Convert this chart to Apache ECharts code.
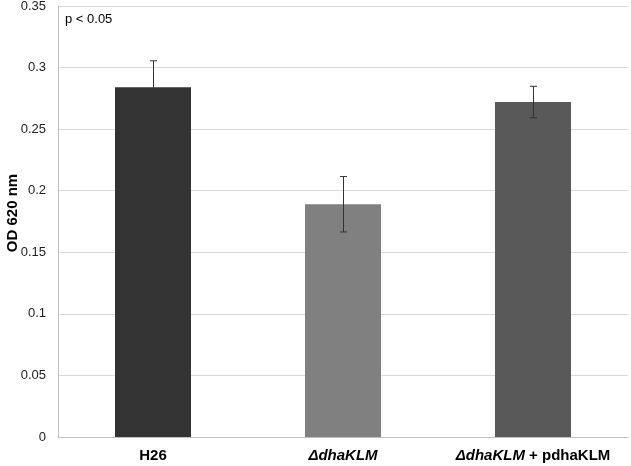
<!DOCTYPE html>
<html><head><meta charset="utf-8">
<script src="https://cdn.jsdelivr.net/npm/echarts@6/dist/echarts.min.js"></script>
<style>html,body{margin:0;padding:0;background:#fff}#c{width:631px;height:466px}</style>
</head><body><div id="c"></div>
<script>
const categories = ['H26', 'ΔdhaKLM', 'ΔdhaKLM + pdhaKLM'];
const values = [0.284, 0.189, 0.272];
const errors = [0.0215, 0.0225, 0.0128];
const barColors = ['#333333', '#808080', '#595959'];
const yTicks = { min: 0, max: 0.35, interval: 0.05 };
const yAxisTitle = 'OD 620 nm';
const note = 'p < 0.05';

const chart = echarts.init(document.getElementById('c'));
const font = 'Liberation Sans, Arial, sans-serif';
chart.setOption({
  animation: false,
  grid: { left: 58, right: 3, top: 6, bottom: 29, containLabel: false, outerBoundsMode: 'none' },
  graphic: [
    { type: 'text', left: 65, top: 13, style: { text: note, font: '13px ' + font, fill: '#000' } },
    { type: 'text', x: 13, y: 213, rotation: Math.PI / 2,
      style: { text: yAxisTitle, font: 'bold 15px ' + font, fill: '#000', align: 'center', verticalAlign: 'middle' } }
  ],
  xAxis: {
    type: 'category', data: categories,
    axisLine: { lineStyle: { color: '#bfbfbf' } },
    axisTick: { show: false },
    axisLabel: {
      interval: 0,
      margin: 11,
      fontFamily: font,
      formatter: function (v, i) {
        if (i === 0) return '{b|' + v + '}';
        if (i === 1) return '{bi|ΔdhaKLM}';
        return '{bi|ΔdhaKLM}{b| + pdhaKLM}';
      },
      rich: {
        b: { fontWeight: 'bold', fontSize: 15, color: '#000', fontFamily: font },
        bi: { fontWeight: 'bold', fontStyle: 'italic', fontSize: 15, color: '#000', fontFamily: font }
      }
    }
  },
  yAxis: {
    type: 'value', min: yTicks.min, max: yTicks.max, interval: yTicks.interval,
    axisLine: { show: true, lineStyle: { color: '#bfbfbf' } },
    axisTick: { show: false },
    axisLabel: { margin: 12, fontSize: 13, color: '#222', fontFamily: font },
    splitLine: { lineStyle: { color: '#d9d9d9' } }
  },
  series: [{
    type: 'bar', barWidth: '40%',
    data: values.map((v, i) => ({ value: v, itemStyle: { color: barColors[i] } }))
  }, {
    type: 'custom',
    data: values.map((v, i) => [i, v - errors[i], v + errors[i]]),
    renderItem: function (params, api) {
      const lo = api.coord([api.value(0), api.value(1)]);
      const hi = api.coord([api.value(0), api.value(2)]);
      const x = Math.round(lo[0]) + 0.5;
      const w = 3.5;
      const st = { stroke: '#333', lineWidth: 1 };
      return { type: 'group', children: [
        { type: 'line', shape: { x1: x, y1: hi[1], x2: x, y2: lo[1] }, style: st },
        { type: 'line', shape: { x1: x - w, y1: hi[1], x2: x + w, y2: hi[1] }, style: st },
        { type: 'line', shape: { x1: x - w, y1: lo[1], x2: x + w, y2: lo[1] }, style: st }
      ]};
    },
    z: 10
  }]
});
</script></body></html>
